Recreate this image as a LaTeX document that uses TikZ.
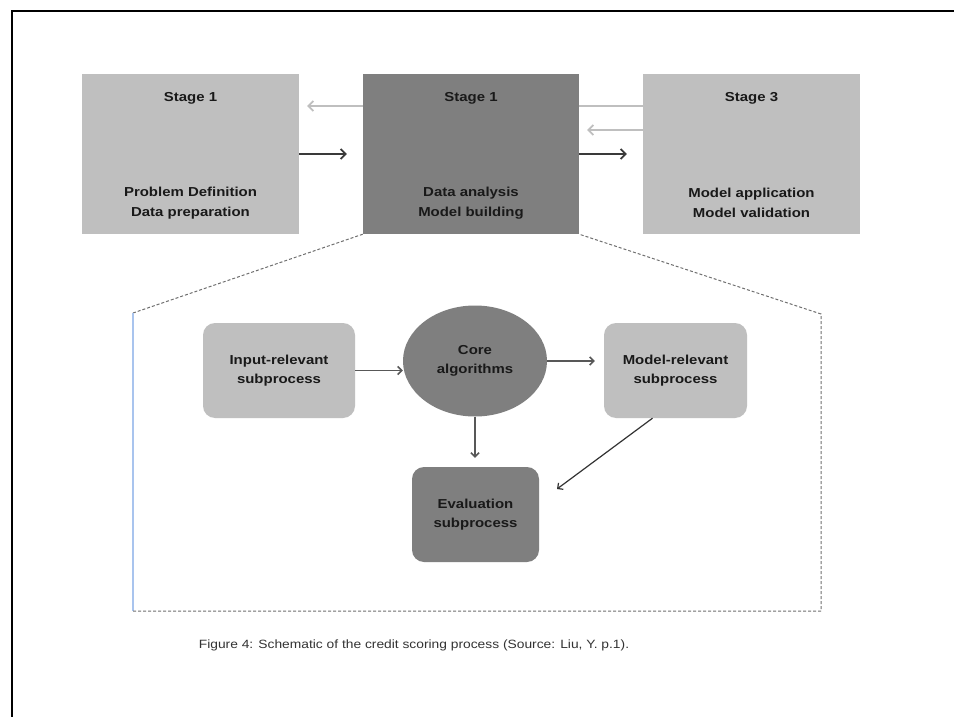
\documentclass[tikz,border=0pt]{standalone}
\usepackage{fontspec}
\setmainfont{Liberation Sans}[FakeStretch=1.15]
\usetikzlibrary{arrows.meta,shapes.geometric}
\definecolor{lightbox}{HTML}{BFBFBF}
\definecolor{darkbox}{HTML}{7F7F7F}
\definecolor{inkdark}{HTML}{3A3A3A}
\definecolor{outline}{HTML}{707070}
\definecolor{edgeblue}{HTML}{A9C4EE}
\begin{document}
\begin{tikzpicture}[x=1pt,y=-1pt,
  stagebox/.style={rectangle, minimum width=217pt, minimum height=160pt, inner sep=0pt},
  stagetext/.style={font=\bfseries\fontsize{13}{20}\selectfont, align=center, text=black!90, inner sep=0pt},
  subbox/.style={rectangle, rounded corners=12pt, inner sep=0pt, minimum height=95pt,
    font=\bfseries\fontsize{13}{19.5}\selectfont, align=center, text=black!90},
  darkarrow/.style={draw=inkdark, line width=2.4pt, -{Straight Barb[length=5pt,width=10pt,line width=1.8pt]}},
  greyarrow/.style={draw=lightbox, line width=2.4pt, -{Straight Barb[length=5pt,width=10pt,line width=1.8pt]}},
  greyline/.style={draw=lightbox, line width=2.4pt},
  flow/.style={draw=inkdark!85, line width=1.8pt, -{Straight Barb[length=4pt,width=8pt,line width=1.5pt]}},
  thinflow/.style={draw=black!80, line width=1.2pt, -{Straight Barb[length=4pt,width=8pt,line width=1.2pt]}},
  zoomedge/.style={draw=outline, line width=1pt, dash pattern=on 3pt off 2pt},
]
\useasboundingbox (0,0) rectangle (954,717);
\fill[white] (0,0) rectangle (954,717);

% page edge
\draw[black, line width=2pt] (12,717) -- (12,11) -- (954,11);

% the three stages
\node[stagebox, fill=lightbox] (s1) at (190.5,154) {};
\node[stagebox, fill=darkbox, minimum width=216pt] (s2) at (471,154) {};
\node[stagebox, fill=lightbox] (s3) at (751.5,154) {};

\node[stagetext] (s1t) at (190.5,98) {Stage 1};
\node[stagetext] (s1b) at (190.5,203) {Problem Definition\\Data preparation};
\node[stagetext] (s2t) at (471,98) {Stage 1};
\node[stagetext] (s2b) at (471,203) {Data analysis\\Model building};
\node[stagetext] (s3t) at (751.5,98) {Stage 3};
\node[stagetext] (s3b) at (751.5,203) {Model application\\Model validation};

% arrows between the stages
\coordinate (back12) at (307,106);
\coordinate (back23) at (587,130);
\draw[greyarrow] ([yshift=48pt]s2.west) -- (back12);
\draw[darkarrow] (s1.east) -- ([xshift=-16pt]s2.west);
\draw[greyline] ([yshift=48pt]s2.east) -- ([yshift=48pt]s3.west);
\draw[greyarrow] ([yshift=24pt]s3.west) -- (back23);
\draw[darkarrow] (s2.east) -- ([xshift=-16pt]s3.west);

% detail frame below stage 2
\draw[zoomedge] (s2.south west) -- (133,313);
\draw[edgeblue, line width=1.2pt] (133,313) -- (133,611);
\draw[zoomedge] (133,611) -- (821,611) -- (821,314) -- (s2.south east);

% inner process
\node[subbox, fill=lightbox, minimum width=152pt] (inp) at (279,370.5) {Input-relevant\\subprocess};
\node[ellipse, fill=darkbox, minimum width=144pt, minimum height=111pt, inner sep=0pt,
  font=\bfseries\fontsize{13}{19.5}\selectfont, align=center, text=black!90] (core) at (475,361) {Core\\algorithms};
\node[subbox, fill=lightbox, minimum width=143pt] (mrel) at (675.5,370.5) {Model-relevant\\subprocess};
\node[subbox, fill=darkbox, minimum width=127pt] (eval) at (475.5,514.5) {Evaluation\\subprocess};

\coordinate (evtip) at (557,489);
\draw[flow] (inp.east) -- (inp.east -| core.west);
\draw[flow, shorten >=9pt] (core.east) -- (core.east -| mrel.west);
\draw[flow, shorten >=9pt] (core.south) -- (core.south |- eval.north);
\draw[thinflow] ([xshift=-23pt]mrel.south) -- (evtip);

% caption
\node[font=\fontsize{12}{14}\selectfont, text=black!80, inner sep=0pt] (cap) at (414,645)
  {Figure 4: Schematic of the credit scoring process (Source: Liu, Y. p.1).};
\end{tikzpicture}
\end{document}
